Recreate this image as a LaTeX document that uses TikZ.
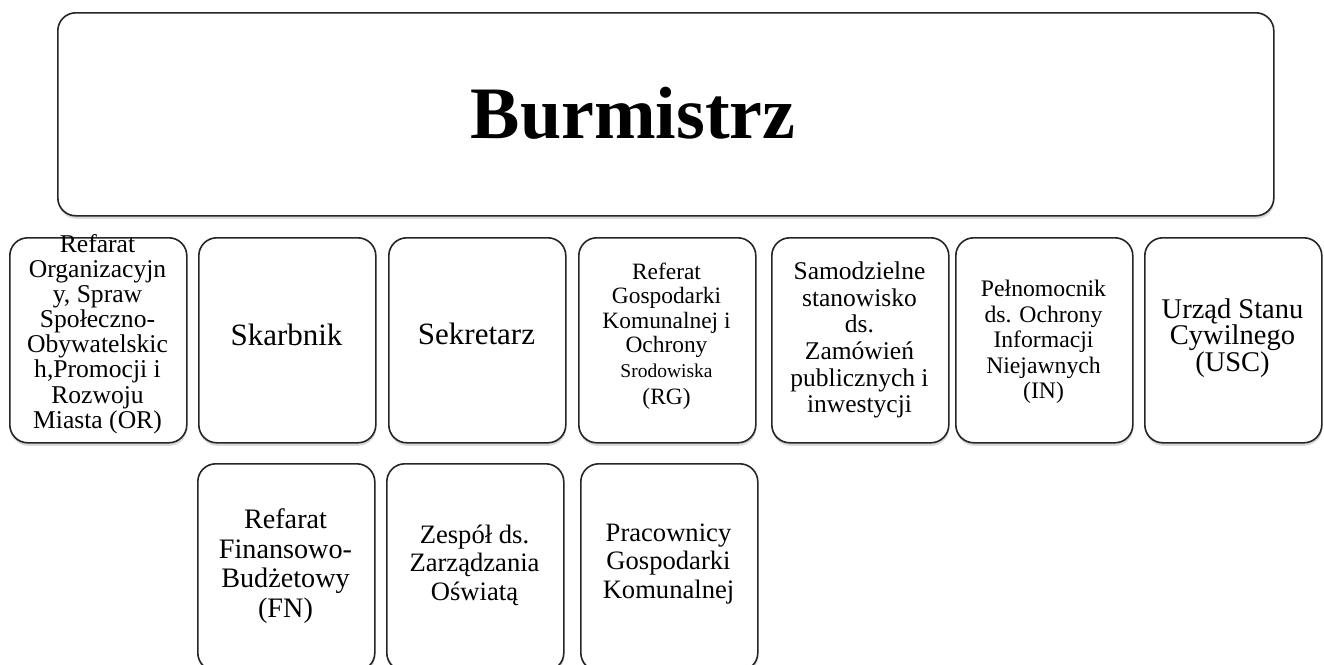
\documentclass[tikz,border=0pt]{standalone}
\usepackage{fontspec}
\setmainfont{Liberation Serif}
\usetikzlibrary{shadows}
\newcommand\fsz[2]{\fontsize{#1}{#2}\selectfont}
\tikzset{
  box/.style={draw=black!85, line width=1.6pt, rounded corners=18pt, fill=white,
    drop shadow={shadow xshift=0.5pt, shadow yshift=-3pt, opacity=0.3},
    anchor=north west, inner sep=0pt},
  rowbox/.style={box, minimum width=177pt, minimum height=205pt},
  lbl/.style={align=center, inner sep=0pt, text=black},
}
\begin{document}
\begin{tikzpicture}[x=1pt,y=-1pt]
\useasboundingbox (0,0) rectangle (1324,664);
% top
\node[box, minimum width=1216pt, minimum height=203pt] (top) at (57,12) {};
\node[lbl, font=\fsz{74}{80}\bfseries] (ttop) at (633,113) {Burmistrz};
% row 1
\node[rowbox] (b1) at (9,237) {};
\node[rowbox] (b2) at (198,237) {};
\node[rowbox] (b3) at (388,237) {};
\node[rowbox] (b4) at (578,237) {};
\node[rowbox] (b5) at (771,237) {};
\node[rowbox] (b6) at (955,237) {};
\node[rowbox] (b7) at (1144,237) {};
% row 2
\node[rowbox, minimum height=207pt] (c1) at (197,463) {};
\node[rowbox, minimum height=207pt] (c2) at (386,463) {};
\node[rowbox, minimum height=207pt] (c3) at (580,463) {};
% texts row 1
\node[lbl, font=\fsz{25.6}{25.1}] (t1) at (97.5,334) {Refarat\\Organizacyjn\\y, Spraw\\Społeczno-\\Obywatelskic\\h,Promocji i\\Rozwoju\\Miasta (OR)};
\node[lbl, font=\fsz{31}{36}] (t2) at (286.5,335) {Skarbnik};
\node[lbl, font=\fsz{31}{36}] (t3) at (476.5,334) {Sekretarz};
\node[lbl, font=\fsz{23.4}{24.5}] (t4) at (666.5,336) {Referat\\Gospodarki\\Komunalnej i\\Ochrony\\{\fsz{19.5}{24.5}Srodowiska}\\[3pt](RG)};
\node[lbl, font=\fsz{25.5}{26.6}] (t5) at (859.5,340) {Samodzielne\\stanowisko\\ds.\\Zamówień\\publicznych i\\inwestycji};
\node[lbl, font=\fsz{23.7}{25.5}] (t6) at (1043.5,342) {Pełnomocnik\\ds. Ochrony\\Informacji\\Niejawnych\\(IN)};
\node[lbl, font=\fsz{28.5}{26.5}] (t7) at (1232.5,338) {Urząd Stanu\\Cywilnego\\(USC)};
% texts row 2
\node[lbl, font=\fsz{28.2}{29.5}] (u1) at (285.5,566) {Refarat\\Finansowo-\\Budżetowy\\(FN)};
\node[lbl, font=\fsz{26.6}{28.5}] (u2) at (474.5,565) {Zespół ds.\\Zarządzania\\Oświatą};
\node[lbl, font=\fsz{26.6}{28.5}] (u3) at (668.5,564) {Pracownicy\\Gospodarki\\Komunalnej};
\end{tikzpicture}
\end{document}
